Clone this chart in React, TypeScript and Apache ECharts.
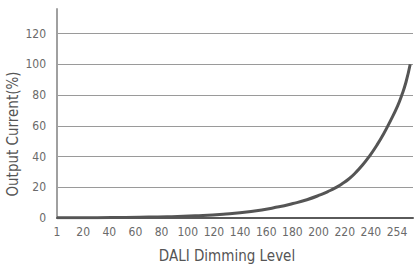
import React, { useEffect, useRef } from "react";
import * as echarts from "echarts";

// DALI level (x) vs output current % (y)
const levels = [1, 20, 40, 60, 80, 100, 120, 140, 160, 170, 180, 190, 195, 200, 205, 210, 215, 220, 225, 230, 235, 240, 245, 248, 251, 254];
const currents = [0.1, 0.2, 0.3, 0.5, 0.8, 1.4, 2.4, 4.2, 7.3, 9.4, 11.9, 15.2, 17.2, 19.4, 22.2, 25.4, 29.6, 34.6, 40.5, 47.2, 54.8, 63.5, 73, 80, 88.5, 100];
const xTickLabels = ["1", "20", "40", "60", "80", "100", "120", "140", "160", "180", "200", "220", "240", "254"];
const xTitle = "DALI Dimming Level";
const yTitle = "Output Current(%)";

const FONT = "'Liberation Sans Narrow', 'DejaVu Sans Condensed', 'Roboto', sans-serif";

export default function App() {
  const ref = useRef<HTMLDivElement>(null);
  useEffect(() => {
    if (!ref.current) return;
    const chart = echarts.init(ref.current, undefined, { renderer: "svg" });
    const data = levels.map((l, i) => [l, currents[i]]);
    chart.setOption({
      animation: false,
      backgroundColor: "#ffffff",
      textStyle: { fontFamily: FONT },
      grid: [
        { left: 57, right: 1, top: 9, bottom: 50 },
        { left: 57, right: 17, top: 9, bottom: 50 },
      ],
      xAxis: [
        {
          type: "value",
          gridIndex: 0,
          min: 1,
          max: 256,
          axisLine: { show: true, lineStyle: { color: "#5a5a5a", width: 2 } },
          axisTick: { show: false },
          axisLabel: { show: false },
          splitLine: { show: false },
        },
        {
          type: "category",
          gridIndex: 1,
          data: xTickLabels,
          boundaryGap: false,
          position: "bottom",
          axisLine: { show: false },
          axisTick: { show: false },
          splitLine: { show: false },
          axisLabel: { color: "#6a6a6a", fontSize: 12, margin: 9, interval: 0, hideOverlap: false, fontFamily: FONT },
          name: xTitle,
          nameLocation: "middle",
          nameGap: 31,
          nameTextStyle: { color: "#555555", fontSize: 15, fontFamily: FONT },
        },
      ],
      yAxis: [
        {
          type: "value",
          gridIndex: 0,
          min: 0,
          max: 136,
          interval: 20,
          axisLine: { show: true, lineStyle: { color: "#a0a0a0", width: 2 } },
          axisTick: { show: false },
          axisLabel: { color: "#6a6a6a", fontSize: 12, margin: 11, showMaxLabel: false, fontFamily: FONT },
          splitLine: { show: true, showMaxLine: false, lineStyle: { color: "#9a9a9a", width: 1 } },
        },
        { type: "value", gridIndex: 1, show: false, min: 0, max: 136 },
      ],
      graphic: [
        {
          type: "text",
          x: 13,
          y: 134,
          rotation: Math.PI / 2,
          style: {
            text: yTitle,
            fill: "#555555",
            font: `15px ${FONT}`,
            align: "center",
            verticalAlign: "middle",
          },
        },
      ],
      series: [
        {
          type: "line",
          xAxisIndex: 0,
          yAxisIndex: 0,
          data,
          smooth: 0.5,
          showSymbol: false,
          symbol: "none",
          lineStyle: { color: "#555555", width: 3 },
          z: 5,
        },
      ],
    });
    return () => chart.dispose();
  }, []);
  return (
    <div
      ref={ref}
      style={{ position: "fixed", left: 0, top: 0, width: 414, height: 268 }}
    />
  );
}
